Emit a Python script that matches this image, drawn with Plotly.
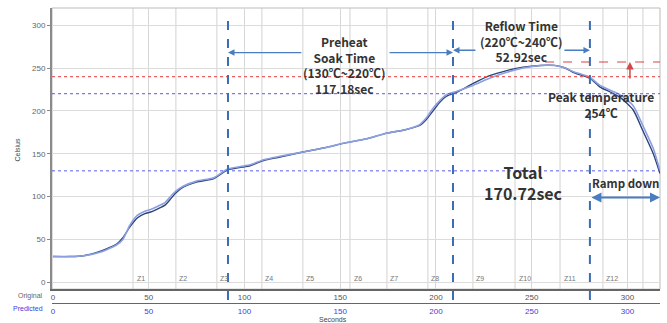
import plotly.graph_objects as go

# ---- data ----
times = [0, 9, 16, 24.5, 30, 33.5, 36.5, 40, 44, 48,
         51, 55, 58.5, 61, 64, 68, 75, 84, 91, 98,
         103, 110, 118.5, 130.5, 142, 153.5, 163, 174.5, 184, 191.5,
         195, 198.5, 202, 205.5, 211, 219.5, 228, 237, 245.5, 254.5,
         262, 267.5, 271.5, 280.5, 285.5, 291, 296, 303, 308, 313.5,
         317]
original = [30, 30, 31, 36, 41, 45, 52, 64, 75, 80,
            82, 86, 90, 96, 104, 111, 117, 121, 131, 134,
            136, 142, 146, 152, 157, 163, 167, 174, 178, 183,
            190, 200, 210, 217, 222, 232, 241, 247, 251, 253,
            253, 250, 245, 238, 228, 222, 216, 201, 177, 150,
            127]
predicted = [30, 30, 31, 35, 40, 44, 50, 66, 78, 83,
             85, 89, 93, 99, 106, 112, 118, 122, 132, 135,
             137, 143, 147, 152, 157, 163, 167, 174, 178, 184,
             192, 203, 212, 219, 223, 230, 238, 245, 250, 253,
             253, 250, 246, 239, 230, 224, 219, 206, 183, 156,
             130]

x_ticks = [0, 50, 100, 150, 200, 250, 300]
y_ticks = [0, 50, 100, 150, 200, 250, 300]
zone_labels = ["Z1", "Z2", "Z3", "Z4", "Z5", "Z6", "Z7", "Z8", "Z9", "Z10", "Z11", "Z12"]
zone_starts = [41.8, 64.2, 85.6, 109.1, 130.5, 155.1, 174.4, 195.8, 219.3, 241.3, 264.8, 287.2, 308.1]

phase_times = [91.4, 208.9, 280.4]       # preheat start, reflow start, peak / ramp down start
temp_levels_blue = [130, 220]
temp_level_red = 240
peak_line = 257

fig = go.Figure()
fig.add_trace(go.Scatter(x=times, y=predicted, mode="lines", name="Predicted",
                         line=dict(color="#8c9fe0", width=1.6, shape="spline", smoothing=0.6),
                         xaxis="x2", yaxis="y"))
fig.add_trace(go.Scatter(x=times, y=original, mode="lines", name="Original",
                         line=dict(color="#2d4478", width=1.4, shape="spline", smoothing=0.6)))

shapes = []
for zx in zone_starts:
    shapes.append(dict(type="line", xref="x", yref="y domain", x0=zx, x1=zx, y0=0, y1=1,
                       line=dict(color="#d2d2d2", width=1), layer="below"))
for lv in temp_levels_blue:
    shapes.append(dict(type="line", xref="x domain", yref="y", x0=0, x1=1, y0=lv, y1=lv,
                       line=dict(color="#5a5ae8", width=1, dash="dot")))
shapes.append(dict(type="line", xref="x domain", yref="y", x0=0, x1=1, y0=temp_level_red, y1=temp_level_red,
                   line=dict(color="#e86060", width=1.2, dash="dot")))
shapes.append(dict(type="line", xref="x", yref="y", x0=257, x1=317, y0=peak_line, y1=peak_line,
                   line=dict(color="#d84040", width=1, dash="dash")))
for px in phase_times:
    shapes.append(dict(type="line", xref="x", yref="paper", x0=px, x1=px, y0=0.01, y1=0.986,
                       line=dict(color="#3a6db5", width=2, dash="dash")))
shapes.append(dict(type="rect", xref="x domain", yref="y domain", x0=0, x1=1, y0=0, y1=1,
                   line=dict(color="#bbbbbb", width=1), layer="below"))

ann = []
acol = "#4a7dbf"
def arrow(hx, hy, tx, ty, color=acol, width=1.3, side="end"):
    ann.append(dict(x=hx, y=hy, ax=tx, ay=ty, xref="x", yref="y", axref="x", ayref="y",
                    text="", showarrow=True, arrowhead=2, arrowsize=1, arrowwidth=width,
                    arrowcolor=color, arrowside=side))

arrow(phase_times[0], 268, 130.5, 268)
arrow(phase_times[1], 268, 175, 268)
arrow(phase_times[1], 270.7, 221.4, 270.7)
arrow(phase_times[2], 270.7, 266.3, 270.7)
arrow(317, 99, phase_times[2], 99, width=2, side="end+start")
arrow(301.3, peak_line, 301.3, 236, color="#d04848", width=1.5)

tf = dict(family="Noto Sans CJK KR", size=12, color="#333333", weight="bold")
def txt(x, y, s, font=tf, xanchor="center"):
    ann.append(dict(x=x, y=y, xref="x", yref="y", text=s, showarrow=False, font=font,
                    xanchor=xanchor, yanchor="middle"))

txt(152.5, 253, "Preheat<br>Soak Time<br>(130℃~220℃)<br>117.18sec")
txt(244.5, 281, "Reflow Time<br>(220℃~240℃)<br>52.92sec")
txt(286.2, 207, "Peak temperature<br>254℃")
txt(245.4, 116, "Total<br>170.72sec", font=dict(family="Noto Sans CJK KR", size=16, color="#333333", weight="bold"))
txt(299, 115.5, "Ramp down", font=dict(family="Noto Sans CJK KR", size=11.5, color="#333333", weight="bold"))

for lab, zx in zip(zone_labels, zone_starts):
    ann.append(dict(x=zx + 0.8, y=4, xref="x", yref="y", text=lab, showarrow=False,
                    font=dict(family="Liberation Sans", size=7, color="#777"), xanchor="left", yanchor="middle"))

ann.append(dict(x=-0.012, y=0.024, xref="paper", yref="paper", text="Original", showarrow=False,
                font=dict(family="Liberation Sans", size=7, color="#666"), xanchor="right", yanchor="middle"))
ann.append(dict(x=-0.012, y=-0.02, xref="paper", yref="paper", text="Predicted", showarrow=False,
                font=dict(family="Liberation Sans", size=7, color="#4040e0"), xanchor="right", yanchor="middle"))
ann.append(dict(x=-0.056, y=0.52, xref="paper", yref="paper", text="Celsius", showarrow=False, textangle=-90,
                font=dict(family="Liberation Sans", size=7, color="#444"), xanchor="center", yanchor="middle"))
ann.append(dict(x=0.462, y=-0.055, xref="paper", yref="paper", text="Seconds", showarrow=False,
                font=dict(family="Liberation Sans", size=7, color="#444"), xanchor="center", yanchor="middle"))

fig.update_layout(
    width=667, height=323,
    margin=dict(l=52, r=7, t=8, b=20, autoexpand=False),
    paper_bgcolor="white", plot_bgcolor="white",
    showlegend=False,
    shapes=shapes, annotations=ann,
    xaxis=dict(range=[-0.5, 317], tickvals=x_ticks, showgrid=True, gridcolor="#d8d8d8", automargin=False,
               showline=True, linecolor="#666", linewidth=1.5, mirror=False, zeroline=False,
               ticks="", tickfont=dict(family="Liberation Sans", size=8, color="#555"), anchor="y"),
    xaxis2=dict(range=[-0.5, 317], tickvals=x_ticks, overlaying="x", anchor="free", position=0, side="bottom",
                automargin=False, showgrid=False, showline=True, linecolor="#666", linewidth=1.2,
                zeroline=False, ticks="", tickfont=dict(family="Liberation Sans", size=8, color="#4040e0")),
    yaxis=dict(domain=[0.047, 1], range=[-8, 320], tickvals=y_ticks, showgrid=True, gridcolor="#dcdcdc",
               automargin=False, showline=True, linecolor="#8a8a8a", linewidth=2, zeroline=False,
               ticks="outside", ticklen=3, tickcolor="#888",
               tickfont=dict(family="Liberation Sans", size=8, color="#666")),
)

fig.write_html("out.html", config={"displayModeBar": False},
               post_script="document.body.style.margin='0px';")
